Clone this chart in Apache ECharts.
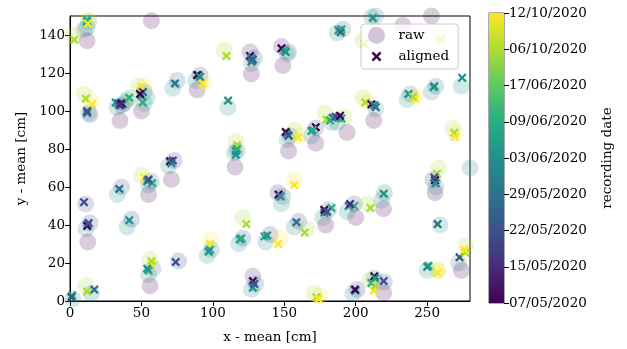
<!DOCTYPE html>
<html>
<head>
<meta charset="utf-8">
<script src="https://cdn.jsdelivr.net/npm/echarts@6/dist/echarts.min.js"></script>
<style>
html,body{margin:0;padding:0;background:#fff;}
#chart{width:627px;height:349px;}
</style>
</head>
<body>
<div id="chart"></div>
<script>
// ---- data ----
// colour index: position of recording session on the colour bar (0 = 07/05/2020 ... 8 = 12/10/2020)
const dateLabels = ['07/05/2020','15/05/2020','22/05/2020','29/05/2020','03/06/2020','09/06/2020','17/06/2020','06/10/2020','12/10/2020'];
const xTicks = [0, 50, 100, 150, 200, 250];
const yTicks = [0, 20, 40, 60, 80, 100, 120, 140];

// raw positions [x, y, session]
const rawPoints = [
  [12,144,4],[10,143,3],[12,137,0],[13,147,5],[13,148,8],
  [3,140,7],
  [57,147.5,0],[55,151,3],
  [10,109,7],[15,105,8],
  [14,98,2],[13,99,4],
  [33,102,4],[36,103,3],[38,104,2],[35,95,0],[40,106,5],
  [42,107,6],
  [48,113,7],[52,113,8],[52,110,3],[54,107,4],[52,104,5],[50,100,0],
  [72,112,4],[75,116,3],
  [88,116,4],[91,119,2],[89,111,0],[94,115,8],
  [108,132,7],
  [126,131,1],[127,125,4],[129,128,3],[127,119.5,0],
  [148,134,1],[152,130,4],[153,131,3],[149,124,0],
  [187,141,4],[191,143,3],
  [211,149.5,4],[214,150,3],
  [214.5,140,0],[205,137,7],
  [258,140,7],
  [233,145,0],[253,150,0],
  [110.5,102,4],
  [116,84,7],[115,78,4],[117,79,3],[115.5,70.5,0],
  [152,85,4],[154,87,3],[153,79,0],[160,87,8],[157,90,7],
  [169,87,4],[172,91,2],[172,83,0],
  [178.5,99,7],[183,94,4],
  [187,94,4],[192,97,7],[194,88.7,0],
  [205,107,7],[208,105,8],
  [214,101,4],[212.6,95,0],
  [236,106,4],[238,109,3],
  [242,108,8],
  [253,110,4],[256,113,3],
  [274,113,4],
  [268,91,7],[270,88,8],
  [69,71,4],[73,74,2],[71,64,0],
  [50,66,7],[55,61,4],[57,63,3],[55,56,0],
  [33,56,4],[36,60,2],
  [11,51,2],
  [11,38,4],[14,41,2],[12.5,31,0],
  [40,39,4],[43,43,2],
  [56,22,7],[55,14,4],[58,17,3],[56,8,0],
  [76,21,2],
  [11,8,7],[15,4,4],
  [2,1,4],
  [157,64,8],
  [145.5,57,1],[148,51,4],[149,55,3],
  [121,44,7],
  [118,30,4],[121,33,2],
  [98,32,8],[96,24,4],[99,27,3],
  [137,31,4],[140,35,2],[147,33,8],
  [157,39,4],[160,42,2],[166,38,7],
  [177,44,4],[181,48,2],[179,40,0],
  [194,47,4],[199,51,2],[200,44,0],
  [208,51,7],[219.5,48.5,0],
  [220,57,3],[218,53,4],
  [258,70,7],[256,60,4],[254,64,2],[255.5,57,0],
  [259,40,4],
  [250,16,4],[257,16,7],[258,16,8],
  [272,20,4],[277,29,7],[274,16,0],
  [213,12,4],[220,10,2],[219.6,4.4,0],[210,11,7],
  [198,4,4],[201,6,2],
  [171,4,7],[175,3,8],
  [128,13,1],[127,6,4],[130,9,3],
  [280,70,4],
  [83,-1,2]
];

// aligned positions [x, y, session]
const alignedPoints = [
  [12,147,4],[12,148,5],[12.5,146,8],
  [3,137.5,7],
  [11,106.5,7],[15.5,103.5,8],
  [12,99,3],[12,100,2],
  [32,104.5,4],[34,104,3],[37,103.5,4],[36,104,0],[35,103,1],
  [41.5,107,5],
  [50,112.5,8],[51,110,2],[50,108,4],[51,104.5,5],[49,109,0],
  [73.5,114.5,3],
  [90,119,5],[89,119,0],[91,118,4],[93,114.5,8],
  [109.5,129,7],
  [126,129,0],[127,128,4],[128,127,2],[127,126,3],
  [150,132,5],[148,133,0],[151,131,4],
  [188,142.5,4],[190,143,5],[189.5,141.5,3],
  [212,149,4],
  [206,135.5,7],
  [259.5,137.5,7],
  [110.7,105.5,4],
  [117,82,7],[116,79,4],[117,80,5],[116,77,4],
  [152,88,4],[151,89,0],[153,87,2],[159.7,86,8],
  [169,89.5,4],[172,91.5,0],[170,90,5],
  [179.5,95.5,7],[184,96.5,3],[182,95,5],
  [188,96.5,4],[186,97,2],[190,96,5],[189,97.5,0],
  [206.8,104.5,7],
  [211,103.5,0],[213,103,4],[214,102,3],
  [237,109,4],
  [241.7,106.5,8],[240,107.5,7],
  [254.5,112.5,5],[255,113,4],
  [274.5,117.5,4],
  [269,88.5,7],[269.5,86.5,8],
  [70,73.5,0],[71,72.5,4],[72,74,2],
  [52,65,8],[57.5,62,5],[54,63,4],[55,64,2],
  [34.5,59,3],
  [9.8,52,2],
  [12.4,40.4,4],[12,39.5,0],[13,41,2],
  [41.5,42.5,4],
  [57,19.5,8],[55,16,5],[54,17,4],[57,21,7],
  [74,20.5,2],
  [12,5,7],[17,6,3],
  [1.5,3,5],[1,2,2],
  [157,61,8],
  [146,56,0],[147.5,55,4],
  [123.5,40.5,7],
  [119,32.5,4],[120,33,5],
  [98,30,8],[98,27,5],[97,26,4],
  [136,34,5],[138,34.5,4],[145.7,30,8],
  [158.5,41.5,3],[164.3,36,7],
  [178,46.5,4],[178,48,0],[183,49,5],[180,47,2],
  [195,50,4],[199,50,5],[196,51,1],
  [210.3,49,7],
  [219.6,56.5,4],
  [257,67,7],[255.5,63.5,0],[256,62,4],[255,65,2],
  [257.3,40.5,3],
  [251,18.5,5],[250,18,4],[257.3,15,8],
  [272.7,23,2],[276.7,25.5,7],[276,27,8],
  [213,13,0],[213.5,12,4],[211,9.5,5],[219.6,10.5,2],[212.6,5.5,8],[214,8,7],
  [199.8,5.5,4],[199.5,6,0],
  [172.5,2,7],[174,1,8],
  [128,10.5,0],[128,7,4],[129,9,2]
];

// ---- styling ----
const viridis = ['#440154','#472d7b','#3b528b','#2c728e','#21918c','#28ae80','#5ec962','#addc30','#fde725'];
const FONT = 'DejaVu Serif';
const xPath = 'path://M1.8,0 L5,3.2 L8.2,0 L10,1.8 L6.8,5 L10,8.2 L8.2,10 L5,6.8 L1.8,10 L0,8.2 L3.2,5 L0,1.8 Z';
// same cross with empty margins so that the legend icon is drawn smaller than the circle icon
const xLegendPath = 'path://M-3.5,-3.5 L-3.5,-3.5 Z M13.5,13.5 L13.5,13.5 Z M1.8,0 L5,3.2 L8.2,0 L10,1.8 L6.8,5 L10,8.2 L8.2,10 L5,6.8 L1.8,10 L0,8.2 L3.2,5 L0,1.8 Z';

const chart = echarts.init(document.getElementById('chart'), null, {renderer:'canvas'});

const cbStops = viridis.map((c,i)=>({offset:i/(viridis.length-1), color:c}));

const option = {
  animation:false,
  backgroundColor:'#fff',
  textStyle:{fontFamily:FONT},
  grid:[
    {left:70, top:16, width:400, height:285, show:true, borderColor:'#000', borderWidth:1, backgroundColor:'transparent'},
    {left:489, top:13, width:15, height:290, show:true, borderColor:'#555', borderWidth:1, backgroundColor:'transparent'}
  ],
  xAxis:[
    {type:'value', gridIndex:0, min:0, max:280, interval:50,
     name:'x - mean [cm]', nameLocation:'middle', nameGap:29,
     nameTextStyle:{fontFamily:FONT, fontSize:13.5, color:'#000'},
     axisLine:{show:true, lineStyle:{color:'#000', width:1}},
     axisTick:{show:true, inside:false, length:5, lineStyle:{color:'#000'}},
     axisLabel:{fontFamily:FONT, fontSize:13.5, color:'#000', margin:5, showMaxLabel:false,
       formatter:v=> xTicks.includes(v) ? String(v) : ''},
     splitLine:{show:false}},
    {type:'category', gridIndex:1, data:['cb'], show:false, boundaryGap:false}
  ],
  yAxis:[
    {type:'value', gridIndex:0, min:0, max:150, interval:20,
     name:'y - mean [cm]', nameLocation:'middle', nameGap:39, nameRotate:90,
     nameTextStyle:{fontFamily:FONT, fontSize:13.5, color:'#000'},
     axisLine:{show:true, lineStyle:{color:'#000', width:1}},
     axisTick:{show:true, inside:false, length:5, lineStyle:{color:'#000'}},
     axisLabel:{fontFamily:FONT, fontSize:13.5, color:'#000', margin:5, showMaxLabel:false,
       formatter:v=> yTicks.includes(v) ? String(v) : ''},
     splitLine:{show:false}},
    {type:'value', gridIndex:1, min:0, max:8, interval:1, position:'right',
     name:'recording date', nameLocation:'middle', nameGap:96, nameRotate:90,
     nameTextStyle:{fontFamily:FONT, fontSize:13.5, color:'#000'},
     axisLine:{show:false},
     axisTick:{show:true, inside:false, length:5, lineStyle:{color:'#000'}},
     axisLabel:{fontFamily:FONT, fontSize:13.5, color:'#000', margin:5,
       formatter:v=> dateLabels[Math.round(v)] || ''},
     splitLine:{show:false}}
  ],
  legend:{
    left:361, top:24, orient:'vertical',
    backgroundColor:'rgba(255,255,255,0.8)', borderColor:'#ccc', borderWidth:1, borderRadius:3,
    padding:[3,9,4,7], itemGap:4, itemWidth:18, itemHeight:17,
    textStyle:{fontFamily:FONT, fontSize:13.5, color:'#000', padding:[0,0,0,8]},
    data:[
      {name:'raw', icon:'circle', itemStyle:{color:'rgba(68,1,84,0.2)', opacity:1}},
      {name:'aligned', icon:xLegendPath, itemStyle:{color:'#440154'}}
    ]
  },
  series:[
    {name:'raw', type:'scatter', xAxisIndex:0, yAxisIndex:0, clip:true,
     data:rawPoints, symbol:'circle', symbolSize:17,
     itemStyle:{color:p=>viridis[p.data[2]], opacity:0.2},
     emphasis:{disabled:true}, z:2},
    {name:'aligned', type:'scatter', xAxisIndex:0, yAxisIndex:0, clip:true,
     data:alignedPoints, symbol:xPath, symbolSize:9,
     itemStyle:{color:p=>viridis[p.data[2]], opacity:1},
     emphasis:{disabled:true}, z:3},
    {name:'colorbar', type:'bar', xAxisIndex:1, yAxisIndex:1, data:[8], barWidth:'100%',
     itemStyle:{color:new echarts.graphic.LinearGradient(0,1,0,0,cbStops)},
     emphasis:{disabled:true}, silent:true}
  ]
};
chart.setOption(option);
</script>
</body>
</html>
